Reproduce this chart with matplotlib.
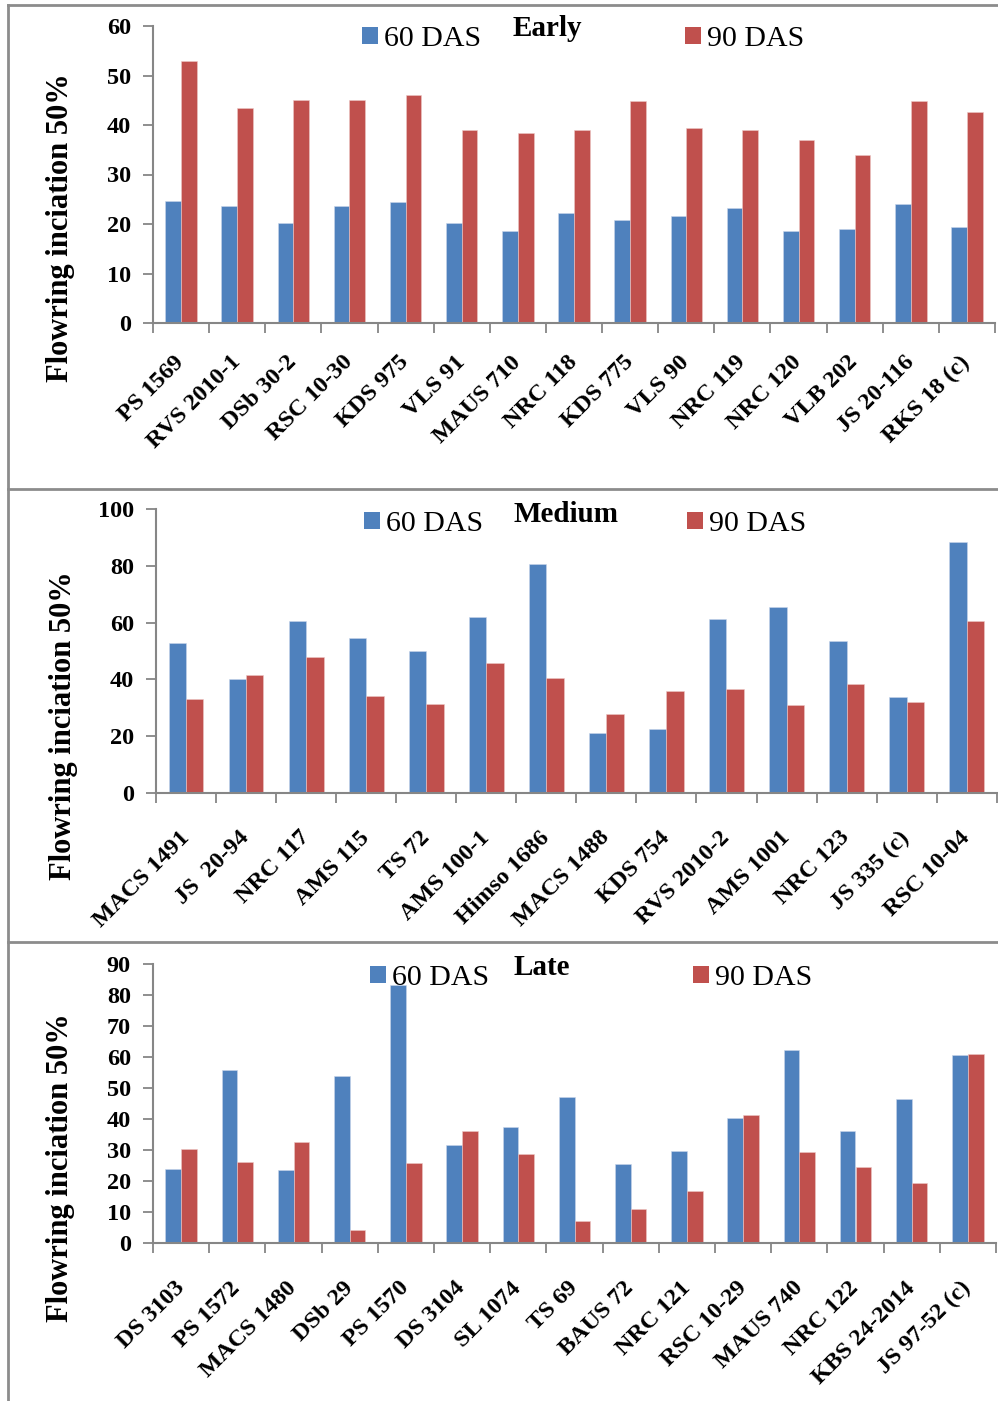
import numpy as np
import matplotlib
matplotlib.use('Agg')
import matplotlib.pyplot as plt
from matplotlib.lines import Line2D
from matplotlib.patches import Patch

plt.rcParams['font.family'] = ['Liberation Serif', 'DejaVu Serif']

early_labels = ['PS 1569', 'RVS 2010-1', 'DSb 30-2', 'RSC 10-30', 'KDS 975', 'VLS 91', 'MAUS 710',
                'NRC 118', 'KDS 775', 'VLS 90', 'NRC 119', 'NRC 120', 'VLB 202', 'JS 20-116', 'RKS 18 (c)']
early_60 = [24.6, 23.6, 20.3, 23.6, 24.4, 20.3, 18.6, 22.3, 20.9, 21.6, 23.3, 18.6, 18.9, 24.0, 19.3]
early_90 = [52.9, 43.4, 45.0, 45.0, 46.0, 39.0, 38.3, 38.9, 44.9, 39.3, 38.9, 36.9, 33.9, 44.9, 42.6]

medium_labels = ['MACS 1491', 'JS  20-94', 'NRC 117', 'AMS 115', 'TS 72', 'AMS 100-1', 'Himso 1686',
                 'MACS 1488', 'KDS 754', 'RVS 2010-2', 'AMS 1001', 'NRC 123', 'JS 335 (c)', 'RSC 10-04']
medium_60 = [52.9, 40.2, 60.6, 54.5, 50.0, 61.9, 80.6, 21.0, 22.4, 61.3, 65.5, 53.5, 33.9, 88.5]
medium_90 = [33.0, 41.4, 47.8, 34.0, 31.3, 45.9, 40.4, 27.7, 36.0, 36.5, 30.9, 38.5, 32.1, 60.5]

late_labels = ['DS 3103', 'PS 1572', 'MACS 1480', 'DSb 29', 'PS 1570', 'DS 3104', 'SL 1074', 'TS 69',
               'BAUS 72', 'NRC 121', 'RSC 10-29', 'MAUS 740', 'NRC 122', 'KBS 24-2014', 'JS 97-52 (c)']
late_60 = [24.0, 56.0, 23.5, 54.0, 83.3, 31.6, 37.6, 47.1, 25.6, 29.7, 40.4, 62.4, 36.2, 46.4, 60.7]
late_90 = [30.4, 26.3, 32.6, 4.4, 26.0, 36.1, 28.7, 7.2, 11.2, 17.0, 41.3, 29.5, 24.6, 19.5, 61.1]

series_names = ['60 DAS', '90 DAS']
colors = ['#4F81BD', '#C0504D']
axis_gray = '#868686'

W, H = 998, 1401
fig = plt.figure(figsize=(W / 100, H / 100), dpi=100)


def px_axes(l, t, r, b):
    return fig.add_axes([l / W, 1 - b / H, (r - l) / W, (b - t) / H])


def panel(box, labels, v60, v90, ymax, step, bw, title, title_xy, leg_xy, ylab_y, lab_pad):
    ax = px_axes(*box)
    n = len(labels)
    x = np.arange(n) + 0.5
    ax.bar(x - bw / 2, v60, bw, color=colors[0], edgecolor='#c9d6ea', linewidth=0.4)
    ax.bar(x + bw / 2, v90, bw, color=colors[1], edgecolor='#ecc8c7', linewidth=0.4)
    ax.set_xlim(0, n)
    ax.set_ylim(0, ymax)
    ax.set_yticks(np.arange(0, ymax + 1, step))
    ax.set_xticks(x)
    ax.set_xticklabels(labels, rotation=45, ha='right', va='center', rotation_mode='anchor',
                       fontsize=17.5, fontweight='bold')
    ax.set_xticks(np.arange(n + 1), minor=True)
    ax.tick_params(axis='x', which='major', length=0, pad=lab_pad)
    ax.tick_params(axis='x', which='minor', length=7, width=1.3, color=axis_gray)
    ax.tick_params(axis='y', length=7, width=1.3, color=axis_gray, pad=9, labelsize=17.5)
    for t in ax.get_yticklabels():
        t.set_fontweight('bold')
    for s in ['top', 'right']:
        ax.spines[s].set_visible(False)
    for s in ['left', 'bottom']:
        ax.spines[s].set_color(axis_gray)
        ax.spines[s].set_linewidth(1.5)
    ax.set_ylabel('Flowring inciation 50%', fontsize=22, fontweight='bold')
    ax.yaxis.set_label_coords(-0.093, ylab_y)
    handles = [Patch(facecolor=c) for c in colors]
    ax.legend(handles, series_names, ncol=2, frameon=False, fontsize=21.5,
              loc='upper left', bbox_to_anchor=(leg_xy[0] / W, 1 - leg_xy[1] / H),
              bbox_transform=fig.transFigure, borderpad=0, borderaxespad=0,
              handlelength=0.53, handleheight=0.53, handletextpad=0.2, columnspacing=6.85)
    fig.text(title_xy[0] / W, 1 - title_xy[1] / H, title, fontsize=21, fontweight='bold',
             va='baseline', ha='left')
    return ax


panel((153, 26, 995, 323), early_labels, early_60, early_90, 60, 10, 0.28,
      'Early', (513, 36), (362, 26), 0.32, 26)
panel((156, 509.3, 996.7, 792.7), medium_labels, medium_60, medium_90, 100, 20, 0.29,
      'Medium', (513, 522), (364, 511), 0.235, 30)
panel((153, 964.3, 996, 1243.3), late_labels, late_60, late_90, 90, 10, 0.28,
      'Late', (513, 975), (370, 965), 0.27, 30)

# frame lines
frame_gray = '#8c8c8c'
for y in [5, 489, 942]:
    fig.add_artist(Line2D([8 / W, 1], [1 - y / H, 1 - y / H], color=frame_gray, lw=2))
fig.add_artist(Line2D([8 / W, 8 / W], [0, 1 - 5 / H], color=frame_gray, lw=2))

fig.savefig('out.png', dpi=100)
